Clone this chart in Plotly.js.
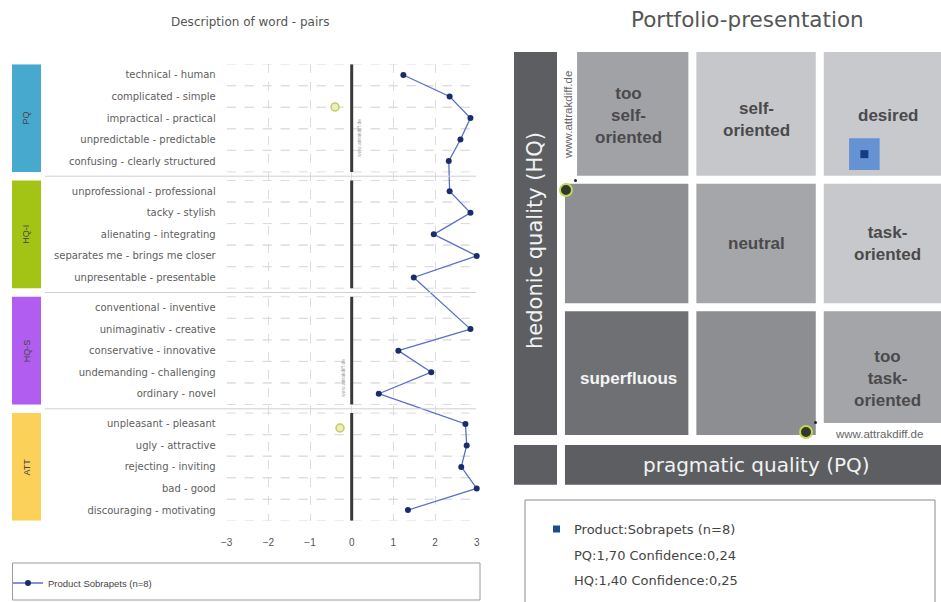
<!DOCTYPE html>
<html>
<head>
<meta charset="utf-8">
<script src="https://cdn.plot.ly/plotly-3.0.1.min.js"></script>
<style>html,body{margin:0;padding:0;background:#fff;}#chart{width:941px;height:602px;}</style>
</head>
<body>
<div id="chart"></div>
<script>
// ---------- DATA ----------
const wordPairs = [
  'technical - human','complicated - simple','impractical - practical','unpredictable - predictable','confusing - clearly structured',
  'unprofessional - professional','tacky - stylish','alienating - integrating','separates me - brings me closer','unpresentable - presentable',
  'conventional - inventive','unimaginativ - creative','conservative - innovative','undemanding - challenging','ordinary - novel',
  'unpleasant - pleasant','ugly - attractive','rejecting - inviting','bad - good','discouraging - motivating'
];
const groupNames = ['PQ','HQ-I','HQ-S','ATT'];
const groupSizes = [5,5,5,5];
const productMeans = [1.24,2.35,2.85,2.61,2.33, 2.35,2.85,1.97,3.0,1.49, null,2.85,1.12,1.91,0.65, 2.73,2.76,2.63,3.0,1.35];
const xTicks = [-3,-2,-1,0,1,2,3];
const productName = 'Product Sobrapets (n=8)';
const portfolioProduct = 'Product:Sobrapets (n=8)';
const pqMean = 1.70, pqConf = 0.24;
const hqMean = 1.40, hqConf = 0.25;
const regionLabels = [
  ['too<br>self-<br>oriented','self-<br>oriented','desired'],
  ['','neutral','task-<br>oriented'],
  ['superfluous','','too<br>task-<br>oriented']
];
const regionColors = [
  ['#a1a2a6','#c6c7ca','#c8c9cc'],
  ['#8e8f93','#a5a6aa','#c7c8cb'],
  ['#6f7074','#8d8e92','#a4a5a9']
];
const regionTextColors = [
  ['#4a4a4c','#4a4a4c','#4a4a4c'],
  ['#4a4a4c','#4a4a4c','#4a4a4c'],
  ['#f4f4f4','#4a4a4c','#4a4a4c']
];
const groupColors = ['#46a9cd','#a3c414','#b15ef0','#fcd15a'];

// ---------- DERIVED POSITIONS ----------
const W = 941, H = 602;
const px = v => v / W, py = v => 1 - v / H;
const GAP = 0.4;
const rowPos = [];
let idx = 0;
groupSizes.forEach((n, g) => { for (let k = 0; k < n; k++) { rowPos.push(idx + g * GAP); idx++; } });
const yMax = rowPos[rowPos.length - 1];

const shapes = [];
const annotations = [];
const grid = '#dcdcdc';
const wide = 'DejaVu Sans, sans-serif';
const note = (x, y, text, font, extra) => annotations.push(Object.assign({xref:'paper', yref:'paper', x:px(x), y:py(y), text:text, showarrow:false, xanchor:'center', yanchor:'middle', font:font}, extra || {}));

// horizontal dashed grid
rowPos.forEach(p => {
  [p - 0.5, p + 0.5].forEach(yy => shapes.push({type:'line', xref:'x', yref:'y', x0:-3, x1:3, y0:yy, y1:yy, line:{color:grid, width:1, dash:'dash'}, layer:'below'}));
});
// group boxes, zero segments, separators
let start = 0;
groupSizes.forEach((n, g) => {
  const top = rowPos[start] - 0.5, bot = rowPos[start + n - 1] + 0.5;
  shapes.push({type:'rect', xref:'paper', yref:'y', x0:px(12), x1:px(41), y0:top, y1:bot, fillcolor:groupColors[g], line:{width:0}});
  annotations.push({xref:'paper', yref:'y', x:px(26.5), y:(top+bot)/2, xanchor:'center', yanchor:'middle', text:groupNames[g], showarrow:false, textangle:-90, font:{size:9, color:'#444'}});
  shapes.push({type:'line', xref:'x', yref:'y', x0:0, x1:0, y0:top, y1:bot, line:{color:'#3a3a3a', width:3}});
  if (g < groupSizes.length - 1) {
    const sep = bot + GAP / 2;
    shapes.push({type:'line', xref:'paper', yref:'y', x0:px(45), x1:px(476), y0:sep, y1:sep, line:{color:'#d0d0d0', width:1}});
  }
  start += n;
});

// left legend box
shapes.push({type:'rect', xref:'paper', yref:'paper', x0:px(12.5), x1:px(480), y0:py(600), y1:py(563), line:{color:'#9a9a9a', width:1}, fillcolor:'rgba(0,0,0,0)'});

// small logos on the left chart
[[335,107],[340,428]].forEach(([cx,cy]) => {
  shapes.push({type:'circle', xref:'paper', yref:'paper', x0:px(cx-4), x1:px(cx+4), y0:py(cy+4), y1:py(cy-4), line:{color:'#c3cc55', width:1.5}, fillcolor:'#e9edc0'});
});
note(359, 138, 'www.attrakdiff.de', {size:5, color:'#9a9a9a'}, {textangle:-90});
note(343, 378, 'www.attrakdiff.de', {size:5, color:'#9a9a9a'}, {textangle:-90});

// titles
note(250, 22, 'Description of word - pairs', {size:12, color:'#555', family:wide});
note(747, 19, 'Portfolio-presentation', {size:21.5, color:'#555', family:wide});

// ---------- PORTFOLIO ----------
const half = 0.0628;
const colBounds = [[-3, -1 - half], [-1 + half, 1 - half], [1 + half, 3]];
const rowBounds = [[1 + half, 3], [-1 + half, 1 - half], [-3, -1 - half]];
const colCenters = [-2, 0, 2.07];
const rowCenters = [2, 0, -2];
for (let r = 0; r < 3; r++) for (let c = 0; c < 3; c++) {
  let x0 = colBounds[c][0], y0 = rowBounds[r][0];
  if (r === 0 && c === 0) x0 = -2.81;
  if (r === 2 && c === 2) y0 = -2.81;
  shapes.push({type:'rect', xref:'x2', yref:'y2', x0:x0, x1:colBounds[c][1], y0:y0, y1:rowBounds[r][1], fillcolor:regionColors[r][c], line:{width:0}, layer:'below'});
  if (regionLabels[r][c]) annotations.push({xref:'x2', yref:'y2', x:colCenters[c], y:rowCenters[r] + (r===0 && c===1 ? -0.05 : 0) + (r===2 && c!==1 ? -0.12 : 0), xanchor:'center', yanchor:'middle', text:'<b>' + regionLabels[r][c] + '</b>', showarrow:false, font:{size:17, color:regionTextColors[r][c], family:'Liberation Sans, Arial, sans-serif'}});
}
// axis bars
const dark = '#5c5e62';
shapes.push({type:'rect', xref:'x2', yref:'y2', x0:-3.8, x1:-3.125, y0:-3, y1:3, fillcolor:dark, line:{width:0}, layer:'below'});
shapes.push({type:'rect', xref:'x2', yref:'y2', x0:-3.8, x1:-3.125, y0:-3.78, y1:-3.157, fillcolor:dark, line:{width:0}, layer:'below'});
shapes.push({type:'rect', xref:'x2', yref:'y2', x0:-3, x1:3, y0:-3.78, y1:-3.157, fillcolor:dark, line:{width:0}, layer:'below'});
annotations.push({xref:'x2', yref:'y2', x:-3.46, y:0.05, xanchor:'center', yanchor:'middle', text:'hedonic quality (HQ)', showarrow:false, textangle:-90, font:{size:21, color:'#f2f2f2', family:wide}});
annotations.push({xref:'x2', yref:'y2', x:0, y:-3.47, xanchor:'center', yanchor:'middle', text:'pragmatic quality (PQ)', showarrow:false, font:{size:20, color:'#f2f2f2', family:wide}});
note(568, 115, 'www.attrakdiff.de', {size:11.5, color:'#666'}, {textangle:-90});
note(879, 434, 'www.attrakdiff.de', {size:11.5, color:'#666'});
[[566,190],[806,432]].forEach(([cx,cy]) => {
  shapes.push({type:'circle', xref:'paper', yref:'paper', x0:px(cx-6), x1:px(cx+6), y0:py(cy+6), y1:py(cy-6), line:{color:'#c6d45a', width:2}, fillcolor:'#2f3a2a'});
  shapes.push({type:'circle', xref:'paper', yref:'paper', x0:px(cx+8), x1:px(cx+11), y0:py(cy-8), y1:py(cy-11), line:{width:0}, fillcolor:'#222'});
});
// confidence rectangle
shapes.push({type:'rect', xref:'x2', yref:'y2', x0:pqMean - pqConf, x1:pqMean + pqConf, y0:hqMean - hqConf, y1:hqMean + hqConf, fillcolor:'#6592d2', line:{width:0}, layer:'below'});

// right legend box
shapes.push({type:'rect', xref:'paper', yref:'paper', x0:px(525), x1:px(935), y0:py(610), y1:py(500), line:{color:'#8a8a8a', width:1}, fillcolor:'rgba(0,0,0,0)'});
shapes.push({type:'rect', xref:'paper', yref:'paper', x0:px(553), x1:px(560), y0:py(532.5), y1:py(525.5), line:{width:0}, fillcolor:'#1f4b8f'});
const fmt = v => v.toFixed(2).replace('.', ',');
[[portfolioProduct,529],['PQ:' + fmt(pqMean) + ' Confidence:' + fmt(pqConf),555],['HQ:' + fmt(hqMean) + ' Confidence:' + fmt(hqConf),580]].forEach(([t,yy]) => {
  note(572, yy, t, {size:13, color:'#444', family:wide}, {xanchor:'left'});
});

// ---------- TRACES ----------
const traces = [
  {type:'scatter', mode:'lines+markers', x:productMeans, y:rowPos, connectgaps:true, name:productName,
   line:{color:'#5a6fc8', width:1.3}, marker:{color:'#1b2c6b', size:6}, cliponaxis:false, xaxis:'x', yaxis:'y'},
  {type:'scatter', mode:'markers', x:[pqMean], y:[hqMean], showlegend:false,
   marker:{symbol:'square', color:'#1b3a86', size:8}, xaxis:'x2', yaxis:'y2'}
];

const layout = {
  width:W, height:H, margin:{l:0, r:0, t:0, b:0}, paper_bgcolor:'#fff', plot_bgcolor:'rgba(0,0,0,0)',
  font:{family:'Liberation Sans, Arial, sans-serif', color:'#555'},
  showlegend:true,
  legend:{x:px(8), y:py(583), xanchor:'left', yanchor:'middle', font:{size:9.5, color:'#444'}, bgcolor:'rgba(0,0,0,0)', itemwidth:30},
  xaxis:{domain:[px(226.7), px(476.7)], range:[-3,3], tickvals:xTicks, showgrid:true, gridcolor:grid, griddash:'dash', zeroline:false,
         ticks:'outside', ticklen:12, tickcolor:'rgba(0,0,0,0)', tickfont:{size:10, color:'#555'}, showline:false, fixedrange:true, anchor:'y'},
  yaxis:{domain:[py(520.8), py(64.2)], range:[yMax + 0.5, -0.5], tickvals:rowPos, ticktext:wordPairs, showgrid:false, zeroline:false,
         ticks:'outside', ticklen:8, tickcolor:'rgba(0,0,0,0)', tickfont:{size:10, color:'#606060', family:wide}, fixedrange:true, anchor:'x'},
  xaxis2:{domain:[px(514), 1], range:[-3.8, 2.903], visible:false, fixedrange:true, anchor:'y2'},
  yaxis2:{domain:[py(488), py(52)], range:[-3.83, 3.0], visible:false, fixedrange:true, anchor:'x2'},
  shapes:shapes, annotations:annotations
};
Plotly.newPlot('chart', traces, layout, {displayModeBar:false, staticPlot:true});
</script>
</body>
</html>
